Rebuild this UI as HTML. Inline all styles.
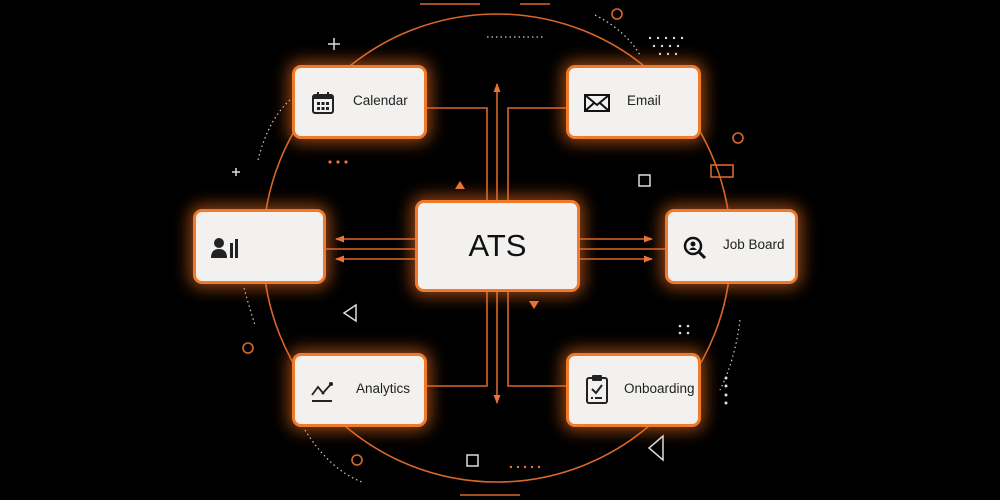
<!DOCTYPE html>
<html><head><style>
html,body{margin:0;padding:0;background:#000;}
body{width:1000px;height:500px;overflow:hidden;position:relative;font-family:"Liberation Sans",sans-serif;}
.b{position:absolute;background:#f2f1ef;border:3px solid #f07a2c;border-radius:9px;box-sizing:border-box;box-shadow:0 0 16px 4px rgba(240,110,30,.6);display:flex;align-items:center;color:#222;font-size:13.5px;}
.b svg{position:absolute;}
</style></head><body>
<svg width="1000" height="500" style="position:absolute;left:0;top:0">
<defs><marker id="a" markerUnits="userSpaceOnUse" markerWidth="9" markerHeight="8" refX="8" refY="4" orient="auto"><path d="M0,0.5 L9,4 L0,7.5z" fill="#e8743a"/></marker></defs>
<g fill="none" stroke="#d9672a" stroke-width="1.6">
<circle cx="497" cy="248" r="234"/>
<path d="M427,108 H487 V200"/><path d="M566,108 H508 V200"/>
<path d="M497,200 V84" marker-end="url(#a)"/>
<path d="M487,292 V386 H427"/><path d="M508,292 V386 H566"/>
<path d="M497,292 V403" marker-end="url(#a)"/>
<path d="M415,239 H336" marker-end="url(#a)"/><path d="M415,259 H336" marker-end="url(#a)"/><path d="M415,249 H326"/>
<path d="M580,239 H652" marker-end="url(#a)"/><path d="M580,259 H652" marker-end="url(#a)"/><path d="M580,249 H665"/>
<circle cx="617" cy="14" r="5"/><circle cx="738" cy="138" r="5"/><circle cx="248" cy="348" r="5"/><circle cx="357" cy="460" r="5"/>
<rect x="711" y="165" width="22" height="12"/>
<path d="M420,4 H480 M520,4 H550 M460,495 H520"/>
</g>
<g fill="#e8743a"><path d="M455,189 l5,-8 l5,8z"/><path d="M529,301 l5,8 l5,-8z"/>
<circle cx="330" cy="162" r="1.6"/><circle cx="338" cy="162" r="1.6"/><circle cx="346" cy="162" r="1.6"/></g>
<g fill="none" stroke="#ddd" stroke-width="1.5">
<rect x="639" y="175" width="11" height="11"/><rect x="467" y="455" width="11" height="11"/>
<path d="M356,305 l-12,8 l12,8z"/><path d="M663,436 l-14,12 l14,12z"/>
<path d="M334,38 v12 M328,44 h12"/><path d="M236,168 v8 M232,172 h8"/>
</g>
<g fill="none" stroke="#ccc" stroke-width="1.2" stroke-dasharray="1.5 3">
<path d="M258,160 Q268,120 290,100"/><path d="M244,288 Q250,310 255,325"/><path d="M305,430 Q330,470 362,482"/>
<path d="M740,320 Q735,360 720,390"/><path d="M595,15 Q625,30 640,55"/><path d="M487,37 H545"/>
</g>
<g fill="#ddd"><circle cx="726" cy="378" r="1.5"/><circle cx="726" cy="386" r="1.5"/><circle cx="726" cy="395" r="1.5"/><circle cx="726" cy="403" r="1.5"/>
<circle cx="680" cy="326" r="1.3"/><circle cx="688" cy="326" r="1.3"/><circle cx="680" cy="333" r="1.3"/><circle cx="688" cy="333" r="1.3"/>
<circle cx="650" cy="38" r="1.2"/><circle cx="658" cy="38" r="1.2"/><circle cx="666" cy="38" r="1.2"/><circle cx="674" cy="38" r="1.2"/><circle cx="682" cy="38" r="1.2"/>
<circle cx="654" cy="46" r="1.2"/><circle cx="662" cy="46" r="1.2"/><circle cx="670" cy="46" r="1.2"/><circle cx="678" cy="46" r="1.2"/>
<circle cx="660" cy="54" r="1.2"/><circle cx="668" cy="54" r="1.2"/><circle cx="676" cy="54" r="1.2"/>
</g>
<g fill="#e8743a"><circle cx="511" cy="467" r="1.2"/><circle cx="518" cy="467" r="1.2"/><circle cx="525" cy="467" r="1.2"/><circle cx="532" cy="467" r="1.2"/><circle cx="539" cy="467" r="1.2"/></g>
</svg>

<div class="b" style="left:292px;top:65px;width:135px;height:74px">
<svg style="left:16px;top:24px" width="24" height="22" viewBox="0 0 24 22"><rect x="2" y="3" width="20" height="18" rx="2" fill="none" stroke="#222" stroke-width="2"/><rect x="2" y="3" width="20" height="4" fill="#222"/><path d="M7,0v5M17,0v5" stroke="#222" stroke-width="2"/><g fill="#222"><rect x="6" y="10" width="3" height="3"/><rect x="10.5" y="10" width="3" height="3"/><rect x="15" y="10" width="3" height="3"/><rect x="6" y="15" width="3" height="3"/><rect x="10.5" y="15" width="3" height="3"/><rect x="15" y="15" width="3" height="3"/></g></svg>
<span style="position:absolute;left:58px;top:25px">Calendar</span></div>

<div class="b" style="left:566px;top:65px;width:135px;height:74px">
<svg style="left:15px;top:26px" width="26" height="18" viewBox="0 0 26 18"><rect x="1" y="1" width="24" height="16" fill="none" stroke="#111" stroke-width="2"/><path d="M1,1 L13,11 L25,1 M1,17 L10,9 M25,17 L16,9" fill="none" stroke="#111" stroke-width="2"/></svg>
<span style="position:absolute;left:58px;top:25px">Email</span></div>

<div class="b" style="left:193px;top:209px;width:133px;height:75px">
<svg style="left:15px;top:25px" width="30" height="22" viewBox="0 0 30 22"><circle cx="8" cy="6" r="5" fill="#222"/><path d="M0,21 Q0,12 8,12 Q16,12 16,21z" fill="#222"/><rect x="19" y="6" width="3" height="15" fill="#222"/><rect x="24" y="2" width="3" height="19" fill="#222"/></svg></div>

<div class="b" style="left:415px;top:200px;width:165px;height:92px;justify-content:center;font-size:31px;color:#111">ATS</div>

<div class="b" style="left:665px;top:209px;width:133px;height:75px">
<svg style="left:15px;top:24px" width="24" height="24" viewBox="0 0 24 24"><circle cx="10" cy="10" r="8" fill="none" stroke="#111" stroke-width="2.5"/><circle cx="10" cy="8" r="2.5" fill="#111"/><path d="M6,14 Q10,9 14,14z" fill="#111"/><path d="M16,16 L22,22" stroke="#111" stroke-width="3"/></svg>
<span style="position:absolute;left:55px;top:25px">Job Board</span></div>

<div class="b" style="left:292px;top:353px;width:135px;height:74px">
<svg style="left:16px;top:25px" width="26" height="22" viewBox="0 0 26 22"><path d="M1,14 L7,6 L12,12 L20,3" fill="none" stroke="#222" stroke-width="1.8"/><circle cx="20" cy="3" r="2" fill="#222"/><circle cx="12" cy="12" r="1.5" fill="#222"/><path d="M1,20 H21" stroke="#222" stroke-width="2"/></svg>
<span style="position:absolute;left:61px;top:25px">Analytics</span></div>

<div class="b" style="left:566px;top:353px;width:135px;height:74px">
<svg style="left:17px;top:18px" width="22" height="30" viewBox="0 0 22 30"><rect x="1" y="4" width="20" height="25" rx="2" fill="none" stroke="#222" stroke-width="2"/><rect x="6" y="1" width="10" height="6" rx="1" fill="#222"/><path d="M6,15 L10,19 L16,11" fill="none" stroke="#222" stroke-width="2"/><path d="M5,24h2M9,24h7" stroke="#222" stroke-width="2"/></svg>
<span style="position:absolute;left:55px;top:25px">Onboarding</span></div>
</body></html>
